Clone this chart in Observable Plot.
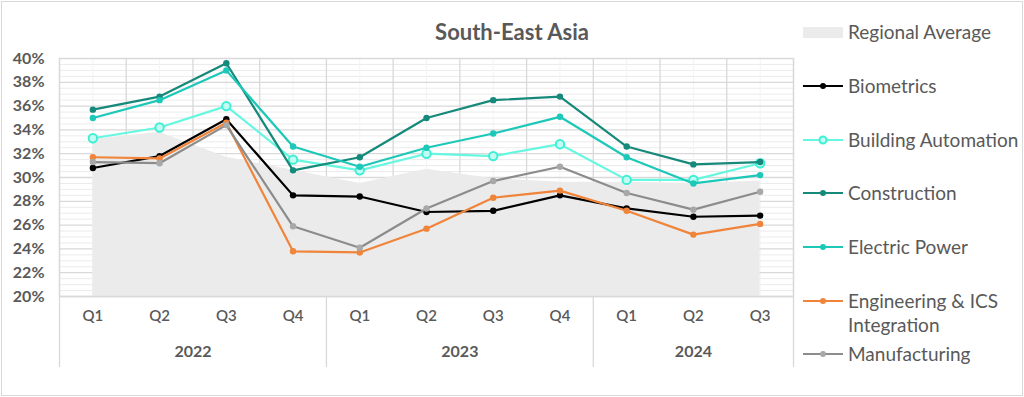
<!DOCTYPE html>
<html>
<head>
<meta charset="utf-8">
<script src="https://cdn.jsdelivr.net/npm/d3@7"></script>
<script src="https://cdn.jsdelivr.net/npm/@observablehq/plot@0.6"></script>
<style>
  body { margin: 0; background: #fff; font-family: Lato, "Open Sans", sans-serif; }
  #wrap { position: relative; width: 1024px; height: 397px; overflow: hidden; background: #fff; }
  #frame { position: absolute; left: 1px; top: 1px; width: 1020px; height: 393px; border: 1px solid #d9d9d9; pointer-events: none; }
  #title { position: absolute; left: 0; width: 1024px; top: 18px; text-align: center; font-weight: bold; font-size: 22px; color: #595959; line-height: 28px; }
  #chart { position: absolute; left: 0; top: 0; }
  .leg { position: absolute; left: 803px; display: flex; align-items: flex-start; font-size: 19px; color: #595959; line-height: 24px; white-space: nowrap; }
  .leg svg { flex: none; margin-right: 5px; }
</style>
</head>
<body>
<div id="wrap">
  <div id="chart"></div>
  <div id="title">South-East Asia</div>
  <div id="legend"></div>
  <div id="frame"></div>
</div>
<script>
// ---- data ----
const quarters = ["Q1", "Q2", "Q3", "Q4", "Q1", "Q2", "Q3", "Q4", "Q1", "Q2", "Q3"];
const years = ["2022", "2023", "2024"];
const quartersPerYear = [4, 4, 3];
const regionalAverage   = [33.2, 33.8, 31.7, 30.6, 29.5, 30.7, 29.9, 29.6, 29.6, 29.5, 29.7];
const biometrics        = [30.8, 31.8, 34.9, 28.5, 28.4, 27.1, 27.2, 28.5, 27.4, 26.7, 26.8];
const buildingAutomation= [33.3, 34.2, 36.0, 31.5, 30.6, 32.0, 31.8, 32.8, 29.8, 29.8, 31.2];
const construction      = [35.7, 36.8, 39.6, 30.6, 31.7, 35.0, 36.5, 36.8, 32.6, 31.1, 31.3];
const electricPower     = [35.0, 36.5, 39.0, 32.6, 30.9, 32.5, 33.7, 35.1, 31.7, 29.5, 30.2];
const engineeringICS    = [31.7, 31.6, 34.6, 23.8, 23.7, 25.7, 28.3, 28.9, 27.2, 25.2, 26.1];
const manufacturing     = [31.3, 31.2, 34.4, 25.9, 24.1, 27.4, 29.7, 30.9, 28.7, 27.3, 28.8];
const yTicks = [20, 22, 24, 26, 28, 30, 32, 34, 36, 38, 40];

// ---- styles ----
const series = [
  {name: "Biometrics", values: biometrics, stroke: "#000000", dot: "#000000", open: false},
  {name: "Building Automation", values: buildingAutomation, stroke: "#66f7e0", dot: "#3eefd6", open: true},
  {name: "Construction", values: construction, stroke: "#15897a", dot: "#15897a", open: false},
  {name: "Electric Power", values: electricPower, stroke: "#1cc8b8", dot: "#1cc8b8", open: false},
  {name: "Engineering & ICS Integration", label: ["Engineering & ICS", "Integration"], values: engineeringICS, stroke: "#ef843a", dot: "#ef843a", open: false},
  {name: "Manufacturing", values: manufacturing, stroke: "#8c8c8c", dot: "#a8a8a8", open: false}
];

const idx = d3.range(quarters.length);
const avgRows = idx.map(i => ({i, v: regionalAverage[i]}));

// year groups
let start = 0;
const yearGroups = years.map((y, k) => {
  const g = {year: y, start, end: start + quartersPerYear[k] - 1};
  start += quartersPerYear[k];
  return g;
});
const separators = [-0.5, ...yearGroups.map(g => g.end + 0.5)];

const minorY = d3.range(20, 40.001, 0.5).filter(v => Math.abs(v / 2 - Math.round(v / 2)) > 1e-6);

const W = 1024, H = 397, mT = 58, mB = 101;
const frameH = H - mT - mB;

const marks = [
  Plot.ruleY(minorY, {y: d => d, stroke: "#ebebeb", strokeWidth: 1}),
  Plot.ruleX(idx, {x: d => d, stroke: "#f3f3f3", strokeWidth: 1}),
  Plot.ruleY(yTicks, {y: d => d, stroke: "#d9d9d9", strokeWidth: 1.3}),
  Plot.ruleX(d3.range(-0.5, quarters.length, 1), {x: d => d, stroke: "#d9d9d9", strokeWidth: 1.3}),
  Plot.areaY(avgRows, {x: "i", y1: 20, y2: "v", fill: "#ebebeb"}),
  Plot.ruleY([20], {stroke: "#d9d9d9", strokeWidth: 1.3}),
  Plot.ruleX(separators, {x: d => d, stroke: "#d9d9d9", strokeWidth: 1.3, insetTop: frameH, insetBottom: -71}),
  Plot.ruleX([separators[0], separators[separators.length - 1]], {x: d => d, stroke: "#d9d9d9", strokeWidth: 1.3})
];

for (const s of series) {
  const rows = idx.map(i => ({i, v: s.values[i]}));
  marks.push(Plot.line(rows, {x: "i", y: "v", stroke: s.stroke, strokeWidth: 2.2}));
  if (s.open) {
    marks.push(Plot.dot(rows, {x: "i", y: "v", r: 4.2, stroke: s.dot, strokeWidth: 2, fill: "#c4fcf2"}));
  } else {
    marks.push(Plot.dot(rows, {x: "i", y: "v", r: 3.2, fill: s.dot, stroke: "none"}));
  }
}

marks.push(
  Plot.axisY(yTicks, {label: null, tickSize: 0, tickPadding: 15, tickFormat: d => d + "%", fontSize: 16, fontWeight: "bold", fill: "#595959"}),
  Plot.text(idx, {x: d => d, text: i => quarters[i], frameAnchor: "bottom", dy: 24, fontSize: 15, fontWeight: "600", fill: "#595959"}),
  Plot.text(yearGroups, {x: g => (g.start + g.end) / 2, text: "year", frameAnchor: "bottom", dy: 60, fontSize: 16, fontWeight: "bold", fill: "#595959"})
);

const chart = Plot.plot({
  width: W,
  height: H,
  marginLeft: 59,
  marginRight: 231,
  marginTop: mT,
  marginBottom: mB,
  x: {type: "linear", domain: [-0.5, quarters.length - 0.5], axis: null},
  y: {type: "linear", domain: [20, 40], axis: null},
  style: {fontFamily: "Lato, 'Open Sans', sans-serif", background: "transparent", overflow: "visible"},
  marks
});
document.getElementById("chart").appendChild(chart);

// ---- legend ----
const legend = document.getElementById("legend");
function addItem(top, swatchSvg, lines) {
  const div = document.createElement("div");
  div.className = "leg";
  div.style.top = top + "px";
  div.innerHTML = swatchSvg + "<div>" + lines.join("<br>") + "</div>";
  legend.appendChild(div);
}
addItem(20, '<svg width="40" height="24"><rect x="0" y="7" width="40" height="11" fill="#ebebeb"/></svg>', ["Regional Average"]);
const legendTops = [74, 128, 181, 235, 289, 342];
series.forEach((s, k) => {
  const marker = s.open
    ? `<circle cx="20" cy="12" r="3.5" fill="#c4fcf2" stroke="${s.dot}" stroke-width="2"/>`
    : `<circle cx="20" cy="12" r="3" fill="${s.dot}"/>`;
  const sw = `<svg width="40" height="24"><line x1="0" x2="40" y1="12" y2="12" stroke="${s.stroke}" stroke-width="2.2"/>${marker}</svg>`;
  addItem(legendTops[k], sw, s.label || [s.name]);
});
</script>
</body>
</html>
